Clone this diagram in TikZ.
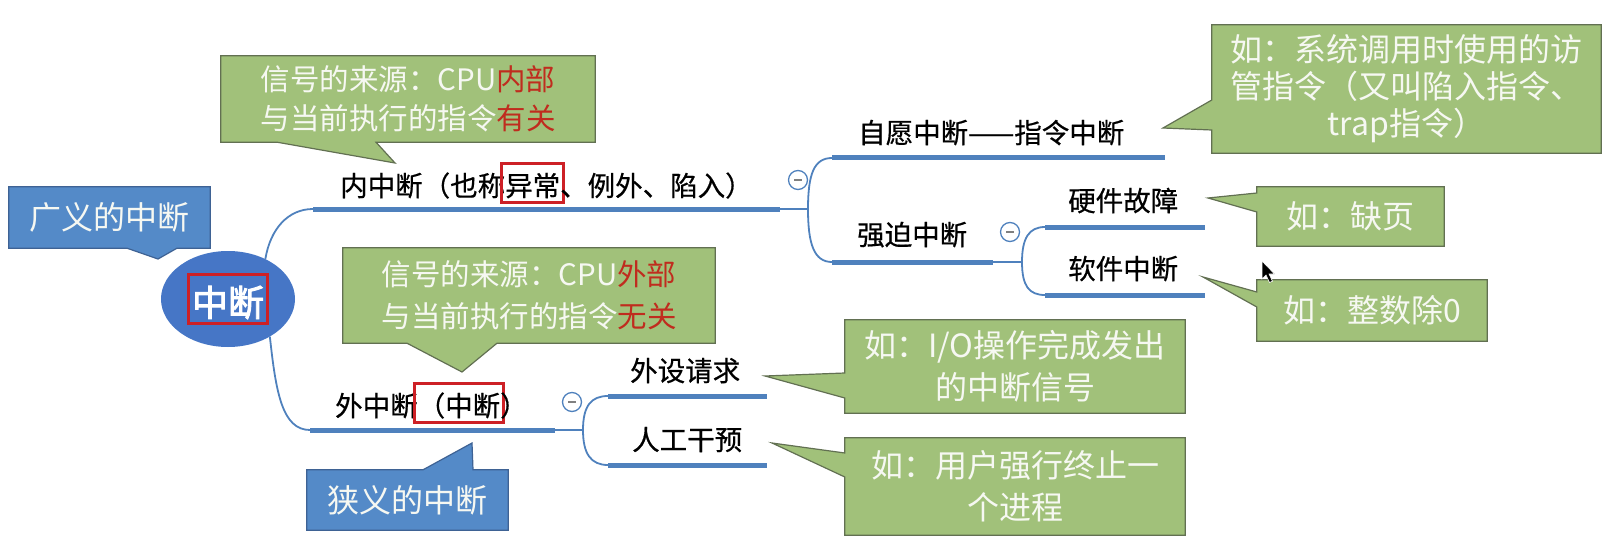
\documentclass[tikz,border=0pt]{standalone}
\usepackage{fontspec}
\setmainfont{Noto Sans CJK SC}
\newfontfamily\cjkbold{Noto Sans CJK SC}[FakeBold=2.5]
\newfontfamily\cjkmedium{Noto Sans CJK SC}[FakeBold=0.6]
\usetikzlibrary{shapes.geometric,backgrounds}

\definecolor{lineblue}{RGB}{79,129,189}
\definecolor{boxblue}{RGB}{84,138,200}
\definecolor{rootblue}{RGB}{70,118,198}
\definecolor{boxgreen}{RGB}{161,193,122}
\definecolor{greenedge}{RGB}{98,112,82}
\definecolor{blueedge}{RGB}{62,98,148}
\definecolor{boxred}{RGB}{205,32,38}
\definecolor{hotred}{RGB}{192,44,30}
\definecolor{paletext}{RGB}{246,248,242}

\newcommand{\redframe}[1]{{\colorlet{framedtext}{.}\setlength{\fboxrule}{3pt}\setlength{\fboxsep}{2pt}\kern-5pt\textcolor{boxred}{\fbox{\textcolor{framedtext}{\rule[-0.1em]{0pt}{1.15em}#1}}}\kern-5pt}}

\begin{document}
\begin{tikzpicture}[x=1pt,y=-1pt,
  thinline/.style={draw=lineblue, line width=1.8pt},
  thickline/.style={draw=lineblue, line width=5pt},
  branchtext/.style={anchor=base west, inner sep=0pt, font=\cjkmedium\fontsize{27.5}{30}\selectfont},
  calltext/.style={inner sep=0pt, align=center, text=paletext},
  greenbox/.style={fill=boxgreen, draw=greenedge, line width=1.2pt},
  bluebox/.style={fill=boxblue, draw=blueedge, line width=1.2pt},
  foldmark/.style={circle, draw=lineblue, line width=1.3pt, fill=white, minimum size=19pt, inner sep=0pt,
    path picture={\draw[gray, line width=1.6pt] ([xshift=-4pt]path picture bounding box.center) -- ([xshift=4pt]path picture bounding box.center);}}]
\useasboundingbox (0,0) rectangle (1613,548);
% -- define nodes
\node[ellipse, fill=rootblue, minimum width=134pt, minimum height=96pt, inner sep=0pt, text=white,
  font=\cjkbold\fontsize{36}{40}\selectfont] (root) at (228,299) {\redframe{中断}};
\coordinate (inL) at (313,209);
\coordinate (inR) at (780,209);
\coordinate (inFork) at (808,209);
\coordinate (volL) at (832,158);
\coordinate (volR) at (1165,158);
\coordinate (forL) at (832,262);
\coordinate (forR) at (993,262);
\coordinate (forFork) at (1022,262);
\coordinate (hwL) at (1045,227);
\coordinate (hwR) at (1205,227);
\coordinate (swL) at (1045,295);
\coordinate (swR) at (1205,295);
\coordinate (exL) at (310,430);
\coordinate (exR) at (555,430);
\coordinate (exFork) at (583,430);
\coordinate (devL) at (608,396);
\coordinate (devR) at (767,396);
\coordinate (manL) at (608,465);
\coordinate (manR) at (767,465);
\node[branchtext] (inText) at (340,196) {内中断（也称\redframe{异常}、例外、陷入）};
\node[branchtext] (volText) at (858,143) {自愿中断——指令中断};
\node[branchtext] (forText) at (857,245) {强迫中断};
\node[branchtext] (hwText) at (1068,211) {硬件故障};
\node[branchtext] (swText) at (1068,279) {软件中断};
\node[branchtext] (exText) at (335,416) {外中断\redframe{（中断}）};
\node[branchtext] (devText) at (630,381) {外设请求};
\node[branchtext] (manText) at (632,450) {人工干预};
\node[foldmark] (inFold) at (798,180) {};
\node[foldmark] (forFold) at (1010,232) {};
\node[foldmark] (exFold) at (572,402) {};
% -- callouts
\node[calltext, minimum width=374pt, minimum height=86pt, font=\fontsize{29.5}{39}\selectfont] (inCall) at (408,99)
  {信号的来源：CPU\textcolor{hotred}{内部}\\与当前执行的指令\textcolor{hotred}{有关}};
\node[calltext, minimum width=372pt, minimum height=95pt, font=\fontsize{29.5}{42}\selectfont] (exCall) at (529,295.5)
  {信号的来源：CPU\textcolor{hotred}{外部}\\与当前执行的指令\textcolor{hotred}{无关}};
\node[calltext, minimum width=201pt, minimum height=61pt, font=\fontsize{32}{36}\selectfont] (wideCall) at (109.5,217.5) {广义的中断};
\node[calltext, minimum width=201pt, minimum height=60pt, font=\fontsize{32}{36}\selectfont] (narrowCall) at (407.5,500) {狭义的中断};
\node[calltext, minimum width=389pt, minimum height=128pt, font=\fontsize{32}{37}\selectfont] (trapCall) at (1406.5,89)
  {如：系统调用时使用的访\\管指令（又叫陷入指令、\\trap指令）};
\node[calltext, minimum width=187pt, minimum height=59pt, font=\fontsize{32}{36}\selectfont] (pageCall) at (1350.5,216.5) {如：缺页};
\node[calltext, minimum width=230pt, minimum height=61pt, font=\fontsize{32}{36}\selectfont] (divCall) at (1372,310.5) {如：整数除0};
\node[calltext, minimum width=340pt, minimum height=93pt, font=\fontsize{32}{42}\selectfont] (ioCall) at (1015,366.5)
  {如：I/O操作完成发出\\的中断信号};
\node[calltext, minimum width=340pt, minimum height=97pt, font=\fontsize{32}{42}\selectfont] (userCall) at (1015,486.5)
  {如：用户强行终止一\\个进程};
\coordinate (inTip) at (395,163);
\coordinate (exTip) at (462,372);
\coordinate (wideTip) at (158,259);
\coordinate (narrowTip) at (472,443);
\coordinate (trapTip) at (1163,128);
\coordinate (pageTip) at (1208,198);
\coordinate (divTip) at (1203,277);
\coordinate (ioTip) at (765,376);
\coordinate (userTip) at (772,443);
\begin{scope}[on background layer]
\draw[greenbox] (inCall.north west) -- (inCall.north east) -- (inCall.south east) -- (inCall.south -| 376,0) -- (inTip) -- (inCall.south -| 277,0) -- (inCall.south west) -- cycle;
\draw[greenbox] (exCall.north west) -- (exCall.north east) -- (exCall.south east) -- (exCall.south -| 497,0) -- (exTip) -- (exCall.south -| 407,0) -- (exCall.south west) -- cycle;
\draw[bluebox] (wideCall.north west) -- (wideCall.north east) -- (wideCall.south east) -- (wideCall.south -| 177,0) -- (wideTip) -- (wideCall.south -| 127,0) -- (wideCall.south west) -- cycle;
\draw[bluebox] (narrowCall.north west) -- (narrowCall.north -| 423,0) -- (narrowTip) -- (narrowCall.north -| 473,0) -- (narrowCall.north east) -- (narrowCall.south east) -- (narrowCall.south west) -- cycle;
\draw[greenbox] (trapCall.north west) -- (trapCall.north east) -- (trapCall.south east) -- (trapCall.south west) -- (trapCall.west |- 0,130) -- (trapTip) -- (trapCall.west |- 0,100) -- cycle;
\draw[greenbox] (pageCall.north west) -- (pageCall.north east) -- (pageCall.south east) -- (pageCall.south west) -- (pageCall.west |- 0,212) -- (pageTip) -- (pageCall.west |- 0,193) -- cycle;
\draw[greenbox] (divCall.north west) -- (divCall.north east) -- (divCall.south east) -- (divCall.south west) -- (divCall.west |- 0,307) -- (divTip) -- (divCall.west |- 0,292) -- cycle;
\draw[greenbox] (ioCall.north west) -- (ioCall.north east) -- (ioCall.south east) -- (ioCall.south west) -- (ioCall.west |- 0,398) -- (ioTip) -- (ioCall.west |- 0,373) -- cycle;
\draw[greenbox] (userCall.north west) -- (userCall.north east) -- (userCall.south east) -- (userCall.south west) -- (userCall.west |- 0,477) -- (userTip) -- (userCall.west |- 0,453) -- cycle;
\end{scope}
% -- draw branches
\draw[thinline] (root.47) .. controls +(5,-30) and +(-25,0) .. (inL);
\draw[thinline] (root.-42) .. controls +(6,55) and +(-28,0) .. (exL);
\draw[thickline] (inL) -- (inR);
\draw[thinline] (inR) -- (inFork);
\draw[thinline] (inFork) .. controls +(0,-35) and +(-18,0) .. (volL);
\draw[thinline] (inFork) .. controls +(0,35) and +(-18,0) .. (forL);
\draw[thickline] (volL) -- (volR);
\draw[thickline] (forL) -- (forR);
\draw[thinline] (forR) -- (forFork);
\draw[thinline] (forFork) .. controls +(0,-24) and +(-16,0) .. (hwL);
\draw[thinline] (forFork) .. controls +(0,24) and +(-16,0) .. (swL);
\draw[thickline] (hwL) -- (hwR);
\draw[thickline] (swL) -- (swR);
\draw[thickline] (exL) -- (exR);
\draw[thinline] (exR) -- (exFork);
\draw[thinline] (exFork) .. controls +(0,-24) and +(-17,0) .. (devL);
\draw[thinline] (exFork) .. controls +(0,24) and +(-17,0) .. (manL);
\draw[thickline] (devL) -- (devR);
\draw[thickline] (manL) -- (manR);
% -- mouse pointer
\coordinate (cursor) at (1262,261);
\filldraw[black, draw=white, line width=0.6pt] (cursor) -- ++(0,18) -- ++(4,-4) -- ++(3.5,7.5) -- ++(3,-1.3) -- ++(-3.5,-7.2) -- ++(5.5,0) -- cycle;
\end{tikzpicture}
\end{document}
